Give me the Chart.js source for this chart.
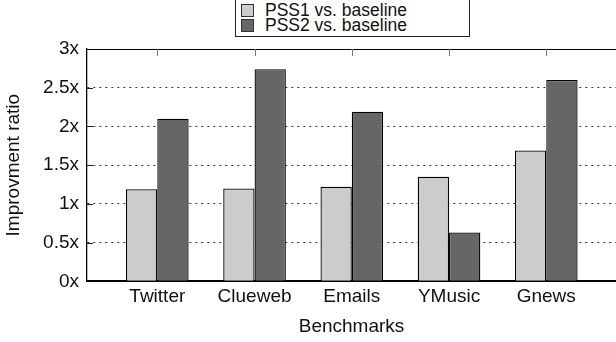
<!DOCTYPE html>
<html><head><meta charset="utf-8">
<script src="https://cdn.jsdelivr.net/npm/chart.js@4/dist/chart.umd.min.js"></script>
<style>
html,body{margin:0;padding:0;background:#fff;overflow:hidden}
#wrap{position:relative;width:616px;height:342px}
#legend{position:absolute;left:235px;top:-2px;width:235px;height:39px;border:1px solid #222;box-sizing:border-box;background:#fff;font-family:"Liberation Sans",Arial,Helvetica,sans-serif;font-size:17.5px;color:#111;z-index:2}
.sw{position:absolute;left:5px;width:11px;height:11px;border:1px solid #333}
.lt{position:absolute;left:29px;height:16px;line-height:16px;white-space:nowrap}
</style></head>
<body>
<div id="wrap">
  <canvas id="c" width="616" height="342"></canvas>
  <div id="legend"></div>
</div>
<script>
const categories = ["Twitter", "Clueweb", "Emails", "YMusic", "Gnews"];
const seriesNames = ["PSS1 vs. baseline", "PSS2 vs. baseline"];
const pss1 = [1.19, 1.20, 1.22, 1.35, 1.69];
const pss2 = [2.10, 2.74, 2.19, 0.63, 2.60];
const yTicks = [0, 0.5, 1, 1.5, 2, 2.5, 3];
const colors = ["#cccccc", "#666666"];

const FONT = '"Liberation Sans", Arial, Helvetica, sans-serif';

// HTML legend built from series names/colors
const lg = document.getElementById('legend');
seriesNames.forEach((n, i) => {
  const top = 3 + i * 14.5;
  const sw = document.createElement('div');
  sw.className = 'sw'; sw.style.top = (top + 2) + 'px'; sw.style.background = colors[i];
  const t = document.createElement('div');
  t.className = 'lt'; t.style.top = top + 'px'; t.textContent = n;
  lg.appendChild(sw); lg.appendChild(t);
});

const frame = {
  id: 'frame',
  beforeDatasetsDraw(chart) {
    const {ctx, chartArea: a, scales: {x, y}} = chart;
    ctx.save();
    ctx.strokeStyle = '#000'; ctx.lineWidth = 1;
    ctx.beginPath(); ctx.moveTo(a.left, a.top + 0.5); ctx.lineTo(a.right, a.top + 0.5); ctx.stroke();
    ctx.strokeStyle = '#777';
    x.ticks.forEach(t => {
      const px = Math.round(x.getPixelForValue(t.value)) + 0.5;
      ctx.beginPath(); ctx.moveTo(px, a.top); ctx.lineTo(px, a.top + 7); ctx.stroke();
    });
    ctx.strokeStyle = '#222';
    y.ticks.forEach(t => {
      if (t.value <= 0 || t.value >= 3) return;
      const py = Math.round(y.getPixelForValue(t.value)) + 0.5;
      ctx.beginPath(); ctx.moveTo(a.left, py); ctx.lineTo(a.left + 6, py); ctx.stroke();
    });
    ctx.restore();
  }
};

new Chart(document.getElementById('c'), {
  type: 'bar',
  data: {
    datasets: [
      {label: seriesNames[0], data: pss1.map((v, i) => ({x: i, y: v})), backgroundColor: colors[0], borderColor: '#000', borderWidth: 1.3, borderSkipped: 'start'},
      {label: seriesNames[1], data: pss2.map((v, i) => ({x: i, y: v})), backgroundColor: colors[1], borderColor: '#000', borderWidth: 1.3, borderSkipped: 'start'}
    ]
  },
  options: {
    responsive: false,
    animation: false,
    events: [],
    categoryPercentage: 0.644,
    barPercentage: 1.0,
    layout: {padding: {top: 49, left: 0, right: 0, bottom: 0}},
    plugins: {legend: {display: false}, tooltip: {enabled: false}},
    scales: {
      x: {
        type: 'linear',
        offset: false,
        grace: 0,
        min: -0.723, max: 4.717,
        afterBuildTicks: s => { s.ticks = categories.map((_, i) => ({value: i})); },
        afterFit: s => { s.height = 60.7; },
        grid: {display: false, drawTicks: false, offset: false},
        border: {display: true, color: '#000', width: 2},
        ticks: {
          padding: 4,
          autoSkip: false, maxRotation: 0,
          color: '#111',
          font: {family: FONT, size: 19},
          callback: v => categories[v]
        },
        title: {display: true, text: 'Benchmarks', color: '#111', font: {family: FONT, size: 19}, padding: {top: 0, bottom: 4}}
      },
      y: {
        min: 0, max: 3,
        afterBuildTicks: s => { s.ticks = yTicks.map(v => ({value: v})); },
        afterFit: s => { s.width = 87; },
        grid: {
          drawTicks: false,
          color: c => (c.tick && (c.tick.value === 0 || c.tick.value === 3)) ? 'rgba(0,0,0,0)' : '#333',
          lineWidth: 1
        },
        border: {display: true, color: '#000', width: 1.3, dash: [2, 4]},
        ticks: {
          padding: 8,
          color: '#111',
          font: {family: FONT, size: 19},
          callback: v => v + 'x'
        },
        title: {display: true, text: 'Improvment ratio', color: '#111', font: {family: FONT, size: 19}, padding: {top: 2, bottom: 0}}
      }
    }
  },
  plugins: [frame]
});
</script>
</body></html>
